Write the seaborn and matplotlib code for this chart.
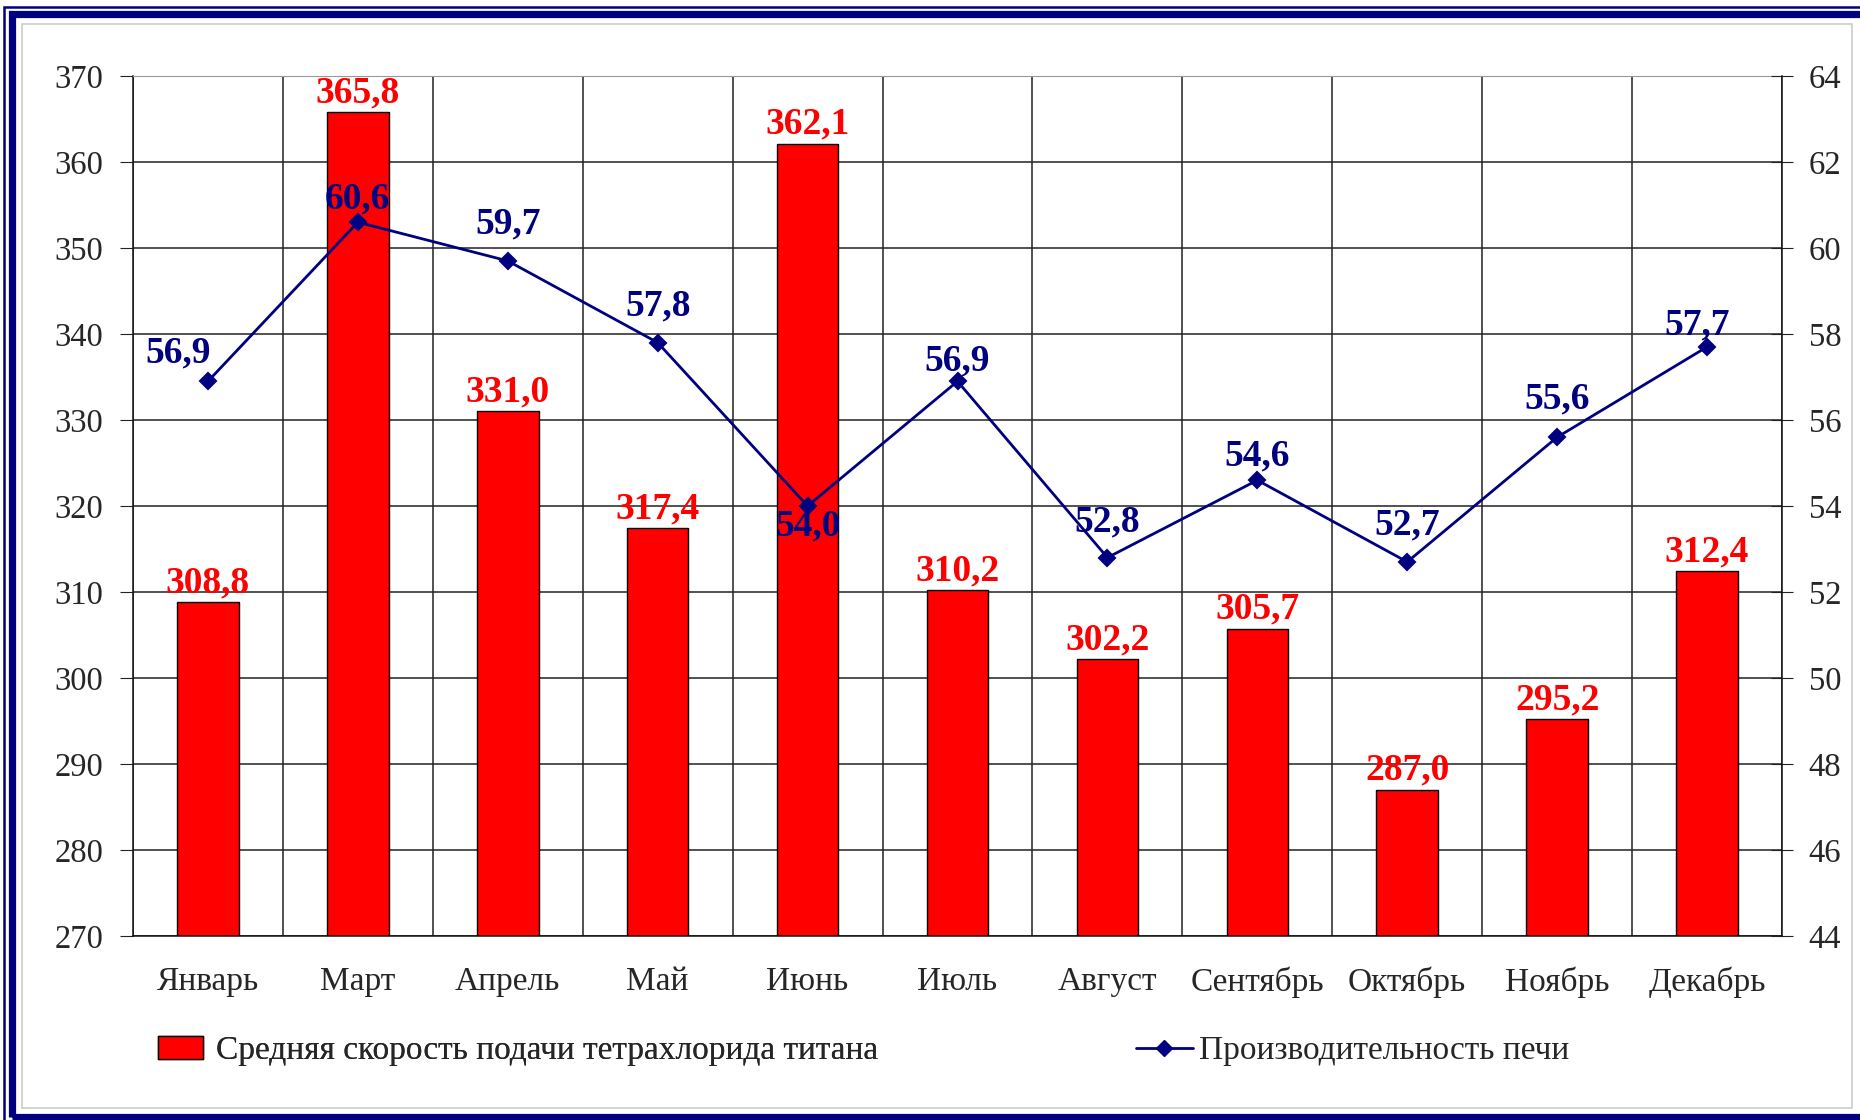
import numpy as np
import matplotlib
matplotlib.use('Agg')
import matplotlib.pyplot as plt
from matplotlib.patches import Rectangle, Patch
from matplotlib.lines import Line2D
import seaborn as sns

# Data
months = ['Январь', 'Март', 'Апрель', 'Май', 'Июнь', 'Июль',
          'Август', 'Сентябрь', 'Октябрь', 'Ноябрь', 'Декабрь']
feed_rate = [308.8, 365.8, 331.0, 317.4, 362.1, 310.2,
             302.2, 305.7, 287.0, 295.2, 312.4]
furnace_output = [56.9, 60.6, 59.7, 57.8, 54.0, 56.9,
                  52.8, 54.6, 52.7, 55.6, 57.7]
bar_name = 'Средняя скорость подачи тетрахлорида титана'
line_name = 'Производительность печи'

RED = '#FF0000'
NAVY = '#000080'
W, H = 1860, 1120

sns.set_style('white')
plt.rcParams['font.family'] = ['Liberation Serif', 'DejaVu Serif']

fig = plt.figure(figsize=(W / 100, H / 100), dpi=100)
ax = fig.add_axes([133 / W, 1 - 936 / H, (1782 - 133) / W, (936 - 76) / H])

# bars on the left axis
sns.barplot(x=months, y=feed_rate, color=RED, saturation=1, width=0.41,
            edgecolor='black', linewidth=1, ax=ax, zorder=2)
ax.set_xlim(-0.5, len(months) - 0.5)
ax.set_ylim(270, 370)
ax.set_yticks(np.arange(270, 371, 10))
ax.set_xticks(np.arange(len(months)), months)
ax.set_xticks(np.arange(-0.5, len(months), 1), minor=True)
ax.set_xlabel('')
ax.set_ylabel('')
ax.set_axisbelow(True)
ax.grid(axis='y', which='major', color='#222222', lw=1.1)
ax.grid(axis='x', which='minor', color='#222222', lw=1.1)
ax.tick_params(axis='x', which='major', length=0, pad=22, labelsize=24)
ax.tick_params(axis='x', which='minor', length=8, direction='out', color='#222222')
ax.tick_params(axis='y', length=9.5, direction='out', pad=12, labelsize=23.5,
               left=True, color='#222222')
for s in ['left', 'bottom']:
    ax.spines[s].set_color('#111111')
    ax.spines[s].set_linewidth(1.1)
ax.spines['top'].set_color('#999999')
ax.spines['right'].set_visible(False)

for i, v in enumerate(feed_rate):
    ax.annotate(f'{v:.1f}'.replace('.', ','), (i, v), xytext=(0, 2),
                textcoords='offset pixels', ha='center', va='bottom',
                color=RED, fontsize=27, fontweight='bold', zorder=5)

# line on the right axis
ax2 = ax.twinx()
sns.pointplot(x=months, y=furnace_output, color=NAVY, markers='D',
              markersize=8, linewidth=2, errorbar=None, ax=ax2)
ax2.set_xlim(-0.5, len(months) - 0.5)
ax2.set_ylim(44, 64)
ax2.set_yticks(np.arange(44, 65, 2))
ax2.set_ylabel('')
ax2.set_xlabel('')
ax2.grid(False)
ax2.tick_params(axis='y', right=True, length=16.5, direction='inout', pad=11,
                labelsize=23.5, color='#222222')
ax2.tick_params(axis='x', which='both', length=0, labelbottom=False)
for s in ['left', 'top', 'bottom']:
    ax2.spines[s].set_visible(False)
ax2.spines['right'].set_color('#111111')
ax2.spines['right'].set_linewidth(1.1)

# label offsets (pixels) for the line values
line_offsets = [(-30, 28), (0, 23), (0, 37), (0, 37), (0, -20), (0, 20),
                (0, 36), (0, 24), (0, 37), (0, 38), (-10, 22)]
for i, v in enumerate(furnace_output):
    dx, dy = line_offsets[i]
    ax2.annotate(f'{v:.1f}'.replace('.', ','), (i, v), xytext=(dx, dy),
                 textcoords='offset pixels', ha='center', va='center',
                 color=NAVY, fontsize=27, fontweight='bold', zorder=6)

# legend: two separate entries
h1 = Patch(facecolor=RED, edgecolor='black', linewidth=1)
leg1 = fig.legend([h1], [bar_name], loc='center left',
                  bbox_to_anchor=(158 / W, 1 - 1051 / H), frameon=False,
                  fontsize=24, handlelength=1.35, handleheight=0.7,
                  handletextpad=0.4, borderpad=0, borderaxespad=0)
h2 = Line2D([], [], color=NAVY, lw=2, marker='D', markersize=8)
fig.legend([h2], [line_name], loc='center left',
           bbox_to_anchor=(1136 / W, 1 - 1051 / H), frameon=False,
           fontsize=24, handlelength=1.7, handletextpad=0.2,
           borderpad=0, borderaxespad=0)
fig.add_artist(leg1)

# decorative frame
def px_rect(x0, y0, x1, y1, **kw):
    fig.add_artist(Rectangle((x0 / W, 1 - y1 / H), (x1 - x0) / W, (y1 - y0) / H,
                             transform=fig.transFigure, fill=False, **kw))

px_rect(22, 24, 1852, 1108, edgecolor='#c8c8c8', lw=1.1)
px_rect(11.5, 13.5, 1880, 1116.5, edgecolor=NAVY, lw=5.2)
px_rect(4, 6.5, 1880, 1140, edgecolor=NAVY, lw=1.8)

fig.savefig('out.png', dpi=100)
